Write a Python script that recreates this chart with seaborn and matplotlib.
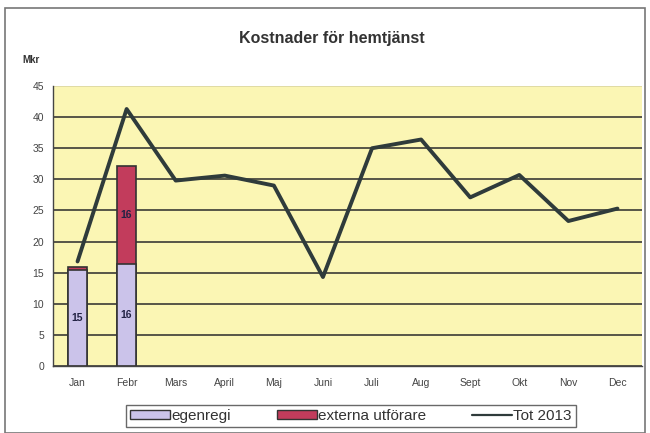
import numpy as np
import pandas as pd
import seaborn as sns
import matplotlib.pyplot as plt
from matplotlib.patches import Rectangle

# data (Mkr)
months = ["Jan", "Febr", "Mars", "April", "Maj", "Juni", "Juli", "Aug", "Sept", "Okt", "Nov", "Dec"]
egenregi = [15.4, 16.4]
externa = [0.5, 15.8]
bar_months = ["Jan", "Febr"]
tot_2013 = [16.8, 41.3, 29.8, 30.6, 29.0, 14.3, 35.0, 36.4, 27.1, 30.7, 23.3, 25.3]

sns.set_style("white")
plt.rcParams['font.family'] = ['Liberation Sans', 'DejaVu Sans']

bars = pd.DataFrame({"month": bar_months, "egenregi": egenregi, "externa": externa})
bars["total"] = bars["egenregi"] + bars["externa"]

fig = plt.figure(figsize=(6.5, 4.33), dpi=100)
ax = fig.add_axes([53 / 650, 1 - 366 / 433, 589 / 650, 280 / 433])
ax.set_facecolor("#fbf6b4")

# stacked bars: total in red, egenregi drawn on top
sns.barplot(data=bars, x="month", y="total", order=months, color="#c23c5c",
            saturation=1, width=0.4, edgecolor="#333333", linewidth=1.2, ax=ax)
sns.barplot(data=bars, x="month", y="egenregi", order=months, color="#cbc3ea",
            saturation=1, width=0.4, edgecolor="#333333", linewidth=1.2, ax=ax)

# value labels inside bars
ax.text(0, egenregi[0] / 2, "15", ha="center", va="center", fontsize=7.5,
        fontweight="bold", color="#222244")
ax.text(1, egenregi[1] / 2, "16", ha="center", va="center", fontsize=7.5,
        fontweight="bold", color="#222244")
ax.text(1, egenregi[1] + externa[1] / 2, "16", ha="center", va="center", fontsize=7.5,
        fontweight="bold", color="#222244")

line = pd.DataFrame({"pos": np.arange(len(months)), "tot": tot_2013})
sns.lineplot(data=line, x="pos", y="tot", color="#2f3b3b", linewidth=2.8, ax=ax)

ax.set_xlim(-0.5, len(months) - 0.5)
ax.set_ylim(0, 45)
ax.set_yticks(range(0, 46, 5))
ax.set_xticks(range(len(months)))
ax.set_xticklabels(months)
ax.yaxis.grid(True, color="#2a2a2a", linewidth=1.1)
ax.get_ygridlines()[-1].set_color("#d8d4a0")
ax.set_axisbelow(True)
ax.set_xlabel("")
ax.set_ylabel("")
ax.tick_params(axis="both", labelsize=7.5, colors="#444444", length=3, direction="out")
ax.tick_params(axis="x", pad=6)
for s in ["top", "right"]:
    ax.spines[s].set_visible(False)
for s in ["left", "bottom"]:
    ax.spines[s].set_color("#444444")
    ax.spines[s].set_linewidth(1)

fig.text(332 / 650, 1 - 38 / 433, "Kostnader för hemtjänst", ha="center", va="center",
         fontsize=11.5, fontweight="bold", color="#333333")
fig.text(22 / 650, 1 - 60 / 433, "Mkr", ha="left", va="center", fontsize=7,
         fontweight="bold", color="#333333")

# outer chart frame
fig.patches.append(Rectangle((5 / 650, 0.0), 640 / 650, 1 - 8 / 433, transform=fig.transFigure,
                             fill=False, edgecolor="#777777", linewidth=1.2))

handles = [Rectangle((0, 0), 1, 1, facecolor="#cbc3ea", edgecolor="#333333"),
           Rectangle((0, 0), 1, 1, facecolor="#c23c5c", edgecolor="#333333"),
           plt.Line2D([], [], color="#2f3b3b", linewidth=1.6)]
leg = fig.legend(handles, ["egenregi", "externa utförare", "Tot 2013"], ncol=3,
                 loc="center", bbox_to_anchor=(351 / 650, 1 - 416 / 433),
                 frameon=True, fancybox=False, fontsize=11, handlelength=2.6,
                 handleheight=0.55, handletextpad=0.1, columnspacing=3.0,
                 borderpad=0.25, borderaxespad=0)
leg.get_frame().set_edgecolor("#444444")
leg.get_frame().set_linewidth(1)
for t in leg.get_texts():
    t.set_color("#333333")

fig.savefig("out.png", dpi=100)
